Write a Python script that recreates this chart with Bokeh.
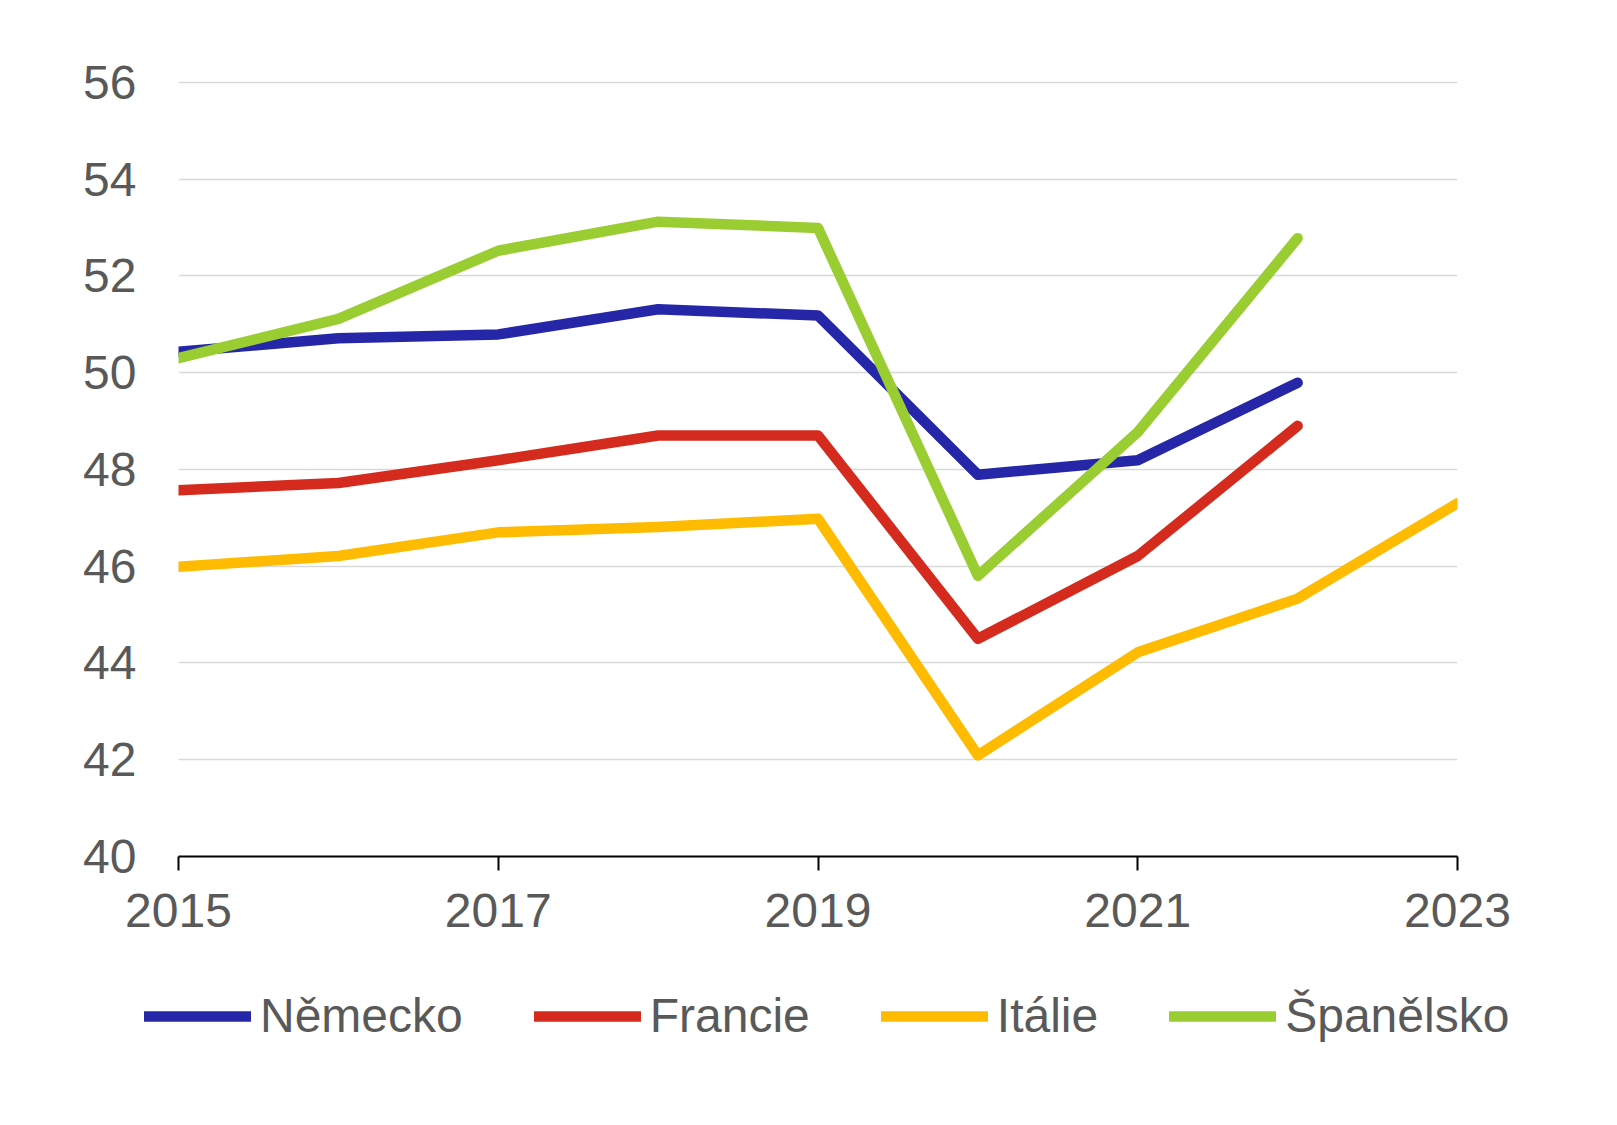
from bokeh.plotting import figure
from bokeh.models import FixedTicker, Legend, LegendItem, Range1d
from bokeh.embed import file_html
from bokeh.resources import INLINE

years = [2015, 2016, 2017, 2018, 2019, 2020, 2021, 2022]
years_it = [2015, 2016, 2017, 2018, 2019, 2020, 2021, 2022, 2023]
nemecko = [50.43, 50.71, 50.79, 51.31, 51.18, 47.89, 48.19, 49.79]
francie = [47.57, 47.72, 48.19, 48.70, 48.70, 44.50, 46.21, 48.90]
italie = [45.99, 46.21, 46.70, 46.81, 46.98, 42.09, 44.22, 45.33, 47.30]
spanelsko = [50.30, 51.11, 52.52, 53.12, 52.99, 45.80, 48.77, 52.78]
names = ["Německo", "Francie", "Itálie", "Španělsko"]
x_ticks = [2015, 2017, 2019, 2021, 2023]
y_ticks = [40, 42, 44, 46, 48, 50, 52, 54, 56]

colors = ["#2626A8", "#D52B1E", "#FFBB00", "#9ACD32"]
FONT = "Liberation Sans"
TXT = "#595959"
LW = 10.5

p = figure(frame_width=1279, frame_height=779, output_backend="svg", toolbar_location=None,
           x_range=Range1d(2015, 2023), y_range=Range1d(40, 56.1),
           min_border_left=178, min_border_right=151, min_border_top=77,
           min_border_bottom=110)
p.outline_line_color = None
p.background_fill_color = "white"

series = [(years, nemecko), (years, francie), (years_it, italie), (years, spanelsko)]
for (xs, ys), c in zip(series, colors):
    p.line(xs, ys, line_color=c, line_width=LW, line_cap="round", line_join="round")

p.xgrid.grid_line_color = None
p.ygrid.grid_line_color = "#D9D9D9"
p.ygrid.grid_line_width = 1.5

p.xaxis.ticker = FixedTicker(ticks=x_ticks)
p.xaxis.axis_line_color = "black"
p.xaxis.axis_line_width = 2
p.xaxis.major_tick_line_color = "black"
p.xaxis.major_tick_line_width = 2
p.xaxis.major_tick_in = 0
p.xaxis.major_tick_out = 14
p.xaxis.minor_tick_line_color = None
p.xaxis.major_label_standoff = 23
p.xaxis.major_label_text_font = FONT
p.xaxis.major_label_text_font_size = "48px"
p.xaxis.major_label_text_color = TXT

p.yaxis.ticker = FixedTicker(ticks=y_ticks)
p.yaxis.axis_line_color = None
p.yaxis.major_tick_line_color = None
p.yaxis.minor_tick_line_color = None
p.yaxis.major_tick_in = 0
p.yaxis.major_tick_out = 0
p.yaxis.major_label_standoff = 42
p.yaxis.major_label_text_font = FONT
p.yaxis.major_label_text_font_size = "48px"
p.yaxis.major_label_text_color = TXT

# legend strip below the chart (its own frame spans the full width)
lg = figure(width=1608, height=130, output_backend="svg", toolbar_location=None,
            x_range=Range1d(0, 1), y_range=Range1d(0, 1),
            x_axis_location=None, y_axis_location=None,
            min_border_left=0, min_border_right=0, min_border_top=0, min_border_bottom=0)
lg.grid.grid_line_color = None
lg.outline_line_color = None
items = []
for (xs, ys), n, c in zip(series, names, colors):
    r = lg.line(xs, ys, line_color=c, line_width=LW, line_cap="round")
    items.append(LegendItem(label=n, renderers=[r]))
legend = Legend(items=items, orientation="horizontal", location=(144, 53),
                label_text_font=FONT, label_text_font_size="48px", label_text_color=TXT,
                glyph_width=107, glyph_height=50, label_standoff=9, spacing=71,
                border_line_color=None, background_fill_alpha=0,
                margin=0, padding=0)
lg.add_layout(legend)

open("out.html", "w").write(file_html([p, lg], INLINE))
